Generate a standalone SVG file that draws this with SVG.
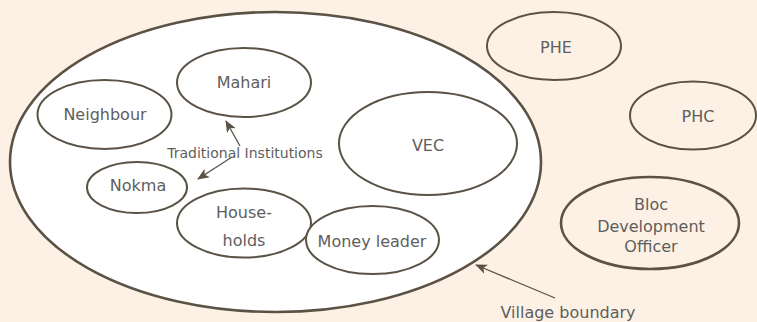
<svg xmlns="http://www.w3.org/2000/svg" width="757" height="322" viewBox="0 0 757 322">
<defs>
<marker id="ah" viewBox="0 0 12 10" refX="11" refY="5" markerWidth="12" markerHeight="10" markerUnits="userSpaceOnUse" orient="auto">
<path d="M0,0 L12,5 L0,10 L3,5 Z" fill="#5b5246"/>
</marker>
<style>
.n{fill:#fff;stroke:#5b5246;stroke-width:2}
.o{fill:none;stroke:#5b5246;stroke-width:2}
text{font-family:"DejaVu Sans",sans-serif;fill:#5e5e5e;text-anchor:middle}
.t{font-size:16px}
.s{font-size:14px}
.c{stroke:#5b5246;stroke-width:1.3;fill:none;marker-end:url(#ah)}
</style>
</defs>
<rect width="757" height="322" fill="#fdf1e5"/>
<g id="village">
<ellipse cx="275.5" cy="162" rx="265.5" ry="150" fill="#fff" stroke="#5b5246" stroke-width="2.6"/>
</g>
<g id="mahari"><ellipse class="n" cx="244" cy="82.5" rx="67" ry="34.5"/><text class="t" x="244" y="88">Mahari</text></g>
<g id="neighbour"><ellipse class="n" cx="104.5" cy="114.5" rx="67" ry="34.5"/><text class="t" x="105" y="120">Neighbour</text></g>
<g id="nokma"><ellipse class="n" cx="137" cy="187.5" rx="50" ry="25.5" stroke-width="1.5"/><text class="t" x="138" y="191">Nokma</text></g>
<g id="households"><ellipse class="n" cx="244" cy="223" rx="67" ry="34.5"/><text class="t" x="244" y="218">House-</text><text class="t" x="244" y="246">holds</text></g>
<g id="money"><ellipse class="n" cx="372.5" cy="240" rx="66.5" ry="34"/><text class="t" x="372" y="247">Money leader</text></g>
<g id="vec"><ellipse class="n" cx="428" cy="143.5" rx="89" ry="51.5"/><text class="t" x="428" y="151">VEC</text></g>
<g id="phe"><ellipse class="o" cx="554" cy="46" rx="67" ry="34"/><text class="t" x="556" y="53">PHE</text></g>
<g id="phc"><ellipse class="o" cx="693" cy="115.5" rx="63" ry="34"/><text class="t" x="698" y="122">PHC</text></g>
<g id="bdo"><ellipse cx="650" cy="223" rx="89" ry="46" fill="none" stroke="#5b5246" stroke-width="2.6"/><text class="t" x="651" y="210">Bloc</text><text class="t" x="651" y="232">Development</text><text class="t" x="651" y="252">Officer</text></g>
<g id="labels">
<text class="s" x="245" y="158">Traditional Institutions</text>
<text class="t" x="568" y="318">Village boundary</text>
</g>
<g id="connectors">
<line class="c" x1="240" y1="146" x2="226" y2="121"/>
<line class="c" x1="232" y1="157" x2="198" y2="179"/>
<line class="c" x1="555" y1="298" x2="476" y2="265"/>
</g>
</svg>
